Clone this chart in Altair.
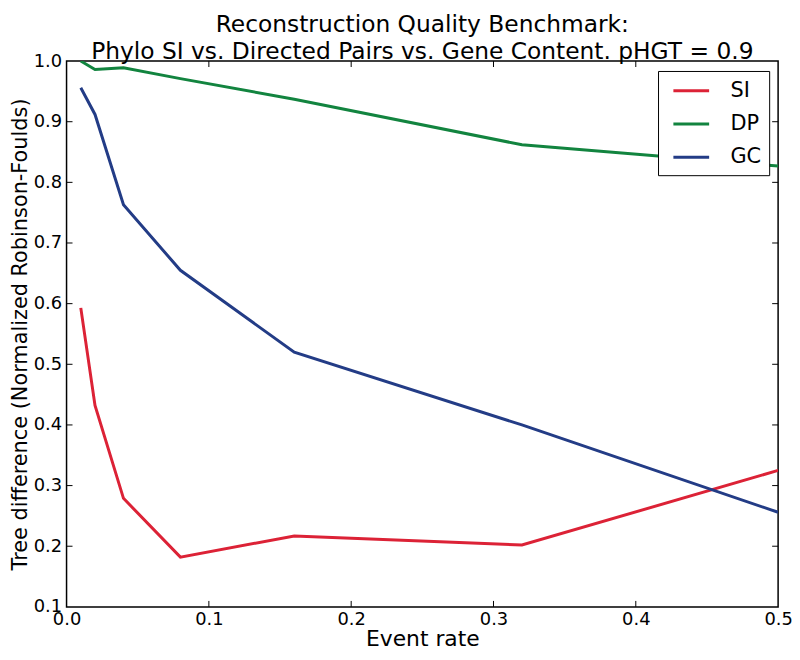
import altair as alt
import pandas as pd

# Data
event_rate = [0.01, 0.02, 0.04, 0.08, 0.16, 0.32, 0.5]
si = [0.593, 0.432, 0.279, 0.182, 0.217, 0.202, 0.325]
dp = [1.0, 0.986, 0.989, 0.971, 0.937, 0.862, 0.827]
gc = [0.956, 0.912, 0.763, 0.655, 0.520, 0.400, 0.256]
series_names = ["SI", "DP", "GC"]
series_colors = ["#dc2236", "#12843f", "#233c86"]
x_ticks = [0.0, 0.1, 0.2, 0.3, 0.4, 0.5]
y_ticks = [0.1, 0.2, 0.3, 0.4, 0.5, 0.6, 0.7, 0.8, 0.9, 1.0]

rows = []
for name, vals in zip(series_names, [si, dp, gc]):
    for x, y in zip(event_rate, vals):
        rows.append({"rate": x, "value": y, "series": name})
df = pd.DataFrame(rows)

W, H = 717, 550
FONT = "DejaVu Sans"

xscale = alt.Scale(domain=[0, 0.5], nice=False, zero=False)
yscale = alt.Scale(domain=[0.1, 1.0], nice=False, zero=False)

lines = alt.Chart(df).mark_line(strokeWidth=3, clip=True).encode(
    x=alt.X("rate:Q", scale=xscale, title="Event rate",
            axis=alt.Axis(values=x_ticks, format=".1f", ticks=False, domain=False,
                          grid=False, labelFontSize=18, labelPadding=4,
                          titleFontSize=22, titleFontWeight="normal", titlePadding=0,
                          labelColor="black", titleColor="black", labelFont=FONT, titleFont=FONT,
                          labelFlush=False)),
    y=alt.Y("value:Q", scale=yscale, title="Tree difference (Normalized Robinson-Foulds)",
            axis=alt.Axis(values=y_ticks, format=".1f", ticks=False, domain=False,
                          grid=False, labelFontSize=18, labelPadding=5,
                          titleFontSize=21, titleFontWeight="normal", titlePadding=3,
                          labelColor="black", titleColor="black", labelFont=FONT, titleFont=FONT,
                          labelFlush=False)),
    color=alt.Color("series:N", scale=alt.Scale(domain=series_names, range=series_colors),
                    sort=series_names,
                    legend=alt.Legend(title=None, orient="none", legendX=596, legendY=10,
                                      symbolType="M-0.43,0H3", symbolSize=441,
                                      symbolStrokeWidth=3,
                                      labelFontSize=21, labelFont=FONT, labelColor="black",
                                      rowPadding=11.5, padding=8, labelOffset=41,
                                      strokeColor="black", fillColor="white",
                                      cornerRadius=0)),
)

xt = pd.DataFrame({"t": x_ticks[1:-1]})
yt = pd.DataFrame({"t": y_ticks[1:-1]})

tick_bottom = alt.Chart(xt).mark_rule(color="black", strokeWidth=1).encode(
    x=alt.X("t:Q", scale=xscale), y=alt.value(H), y2=alt.value(H - 6))
tick_top = alt.Chart(xt).mark_rule(color="black", strokeWidth=1).encode(
    x=alt.X("t:Q", scale=xscale), y=alt.value(0), y2=alt.value(6))
tick_left = alt.Chart(yt).mark_rule(color="black", strokeWidth=1).encode(
    y=alt.Y("t:Q", scale=yscale), x=alt.value(0), x2=alt.value(6))
tick_right = alt.Chart(yt).mark_rule(color="black", strokeWidth=1).encode(
    y=alt.Y("t:Q", scale=yscale), x=alt.value(W), x2=alt.value(W - 6))

chart = alt.layer(lines, tick_bottom, tick_top, tick_left, tick_right).properties(
    width=W, height=H,
    title=alt.TitleParams(
        text=["Reconstruction Quality Benchmark:",
              "Phylo SI vs. Directed Pairs vs. Gene Content. pHGT = 0.9"],
        fontSize=23.5, font=FONT, fontWeight="normal", color="black",
        anchor="middle", offset=-35.3, lineHeight=27.5, baseline="bottom"),
    autosize=alt.AutoSizeParams(type="none"),
    padding={"left": 59, "top": 51, "right": 14, "bottom": 43},
    background="white",
).configure_view(stroke="black", strokeWidth=1.5)

chart.save("out.html", embed_options={"renderer": "svg", "actions": False})
